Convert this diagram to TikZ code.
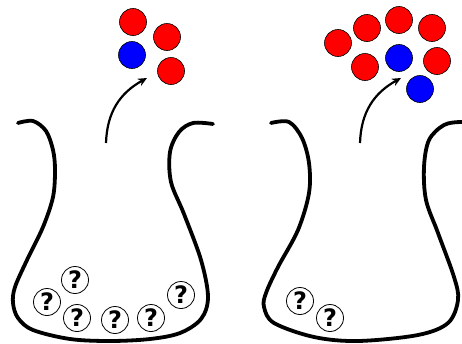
\documentclass[tikz,border=0pt]{standalone}
\usepackage{fontspec}
\newfontfamily\qfont{DejaVu Sans}
\usetikzlibrary{arrows.meta}
\tikzset{
  flask/.style={line width=3.8pt, line cap=round, line join=round},
  ball/.style={circle, draw=black, line width=0.6pt, fill=#1, minimum size=27pt, inner sep=0pt},
  qball/.style={circle, draw=black, line width=0.8pt, fill=white, minimum size=27pt, inner sep=0pt, font=\qfont\bfseries\fontsize{24}{24}\selectfont},
  pull/.style={line width=2.2pt, -{Stealth[length=9pt, width=8pt]}},
}
\begin{document}
\begin{tikzpicture}[x=1pt, y=-1pt]
\useasboundingbox (0,0) rectangle (462,343);
% left flask
\draw[flask] plot[smooth, tension=0.55] coordinates {(18,123) (33,121) (46,131) (53,150) (55,170) (53,197) (43,227) (27,260) (15,287) (13,303) (18,318) (33,330) (70,339) (110,341) (150,339) (180,333) (201,319) (208,297) (201,260) (184,214) (171,182) (170,152) (179,132) (193,123) (213,124)};
% right flask
\draw[flask] plot[smooth, tension=0.55] coordinates {(271,123) (289,122) (302,138) (309,163) (309,193) (298,230) (278,267) (266,293) (264,307) (274,323) (314,337) (358,341) (418,335) (448,323) (458,300) (454,277) (438,233) (426,200) (424,167) (429,140) (444,125) (461,122) (472,124)};
% left balls
\node[ball=red] (l1) at (133,22) {};
\node[ball=red] (l2) at (167,37) {};
\node[ball=blue] (l3) at (132,55) {};
\node[ball=red] (l4) at (171,71) {};
% right balls
\node[ball=red] (r1) at (338,43) {};
\node[ball=red] (r2) at (367,28) {};
\node[ball=red] (r3) at (399,20) {};
\node[ball=red] (r4) at (432,28) {};
\node[ball=red] (r5) at (365,67) {};
\node[ball=blue] (r6) at (399,58) {};
\node[ball=red] (r7) at (437,61) {};
\node[ball=blue] (r8) at (420,89) {};
% arrows
\coordinate (la) at (106,143);
\coordinate (lb) at (147,78);
\coordinate (ra) at (360,143);
\coordinate (rb) at (401,78);
\draw[pull] (la) .. controls (107,112) and (120,93) .. (lb);
\draw[pull] (ra) .. controls (361,112) and (374,93) .. (rb);
% unknown balls left
\node[qball] (q1) at (75,280) {?};
\node[qball] (q2) at (47,302) {?};
\node[qball] (q3) at (77,318) {?};
\node[qball] (q4) at (115,320) {?};
\node[qball] (q5) at (151,318) {?};
\node[qball] (q6) at (181,295) {?};
% unknown balls right
\node[qball] (q7) at (300,301) {?};
\node[qball] (q8) at (330,318) {?};
\end{tikzpicture}
\end{document}
